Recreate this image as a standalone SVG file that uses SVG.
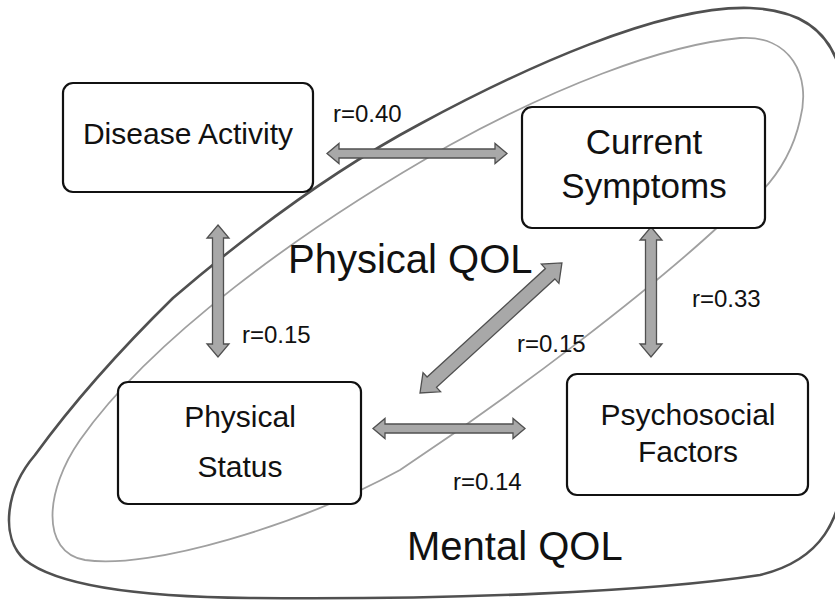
<svg xmlns="http://www.w3.org/2000/svg" width="835" height="601" viewBox="0 0 835 601">
<style>
.bg{fill:#ffffff}
.outer{fill:none;stroke:#505050;stroke-width:2.6}
.inner{fill:none;stroke:#a0a0a0;stroke-width:1.8}
.arr{fill:#a8a8a8;stroke:#505050;stroke-width:1.3;stroke-linejoin:miter}
.box{fill:#ffffff;stroke:#111111;stroke-width:2.2}
.t{font-family:"Liberation Sans",Arial,Helvetica,sans-serif;fill:#111111}
.lbl{font-size:30px;text-anchor:middle}
.big{font-size:35px;text-anchor:middle}
.r{font-size:24px}
.qol{font-size:40px}
</style>
<rect class="bg" x="0" y="0" width="835" height="601"/>
<g id="regions">
<path id="mental-qol-region" class="outer" d="M 173 298 C 250 232, 330 172, 420 124 C 520 70, 660 5, 750 8 C 810 10, 835 40, 842 80 L 846 460 C 842 520, 822 560, 760 575 C 650 592, 450 600, 250 598 C 150 597, 60 588, 25 560 C 0 538, 5 490, 35 455 C 75 400, 120 350, 173 298 Z"/>
<path id="physical-qol-region" class="inner" d="M 740 38 C 790 35, 812 75, 800 120 C 790 165, 760 200, 720 225 C 650 290, 520 390, 400 470 C 300 525, 150 570, 85 560 C 40 552, 45 490, 80 440 C 150 340, 300 230, 450 145 C 550 90, 660 45, 740 38 Z"/>
</g>
<g id="connectors">
<polygon class="arr" points="327,153.5 339,143.5 339,149 495,149 495,143.5 507,153.5 495,163.5 495,158 339,158 339,163.5"/>
<polygon class="arr" points="373,428.5 385,418.5 385,424 513,424 513,418.5 525,428.5 513,438.5 513,433 385,433 385,438.5"/>
<polygon class="arr" points="218,225 229,238 223.5,238 223.5,344 229,344 218,357 207,344 212.5,344 212.5,238 207,238"/>
<polygon class="arr" points="651,227 662,240 656.5,240 656.5,344 662,344 651,357 640,344 645.5,344 645.5,240 640,240"/>
<polygon class="arr" transform="translate(420,393) rotate(-42.5)" points="0,0 16,-13 16,-7 176.5,-7 176.5,-13 192.5,0 176.5,13 176.5,7 16,7 16,13"/>
</g>
<g id="disease-activity">
<rect class="box" x="63" y="83" width="250" height="109" rx="10"/>
<text class="t lbl" x="188" y="144">Disease Activity</text>
</g>
<g id="current-symptoms">
<rect class="box" x="522" y="107" width="243" height="121" rx="10"/>
<text class="t big" x="644" y="154">Current</text>
<text class="t big" x="644" y="198">Symptoms</text>
</g>
<g id="physical-status">
<rect class="box" x="118" y="382" width="243" height="122" rx="10"/>
<text class="t lbl" x="240" y="427">Physical</text>
<text class="t lbl" x="240" y="477">Status</text>
</g>
<g id="psychosocial-factors">
<rect class="box" x="567" y="374" width="241" height="121" rx="10"/>
<text class="t lbl" x="688" y="425">Psychosocial</text>
<text class="t lbl" x="688" y="462">Factors</text>
</g>
<g id="labels">
<text class="t r" x="333" y="122">r=0.40</text>
<text class="t r" x="242" y="343">r=0.15</text>
<text class="t r" x="692" y="307">r=0.33</text>
<text class="t r" x="517" y="352">r=0.15</text>
<text class="t r" x="453" y="490">r=0.14</text>
<text class="t qol" x="288" y="273">Physical QOL</text>
<text class="t qol" x="407" y="560">Mental QOL</text>
</g>
</svg>
